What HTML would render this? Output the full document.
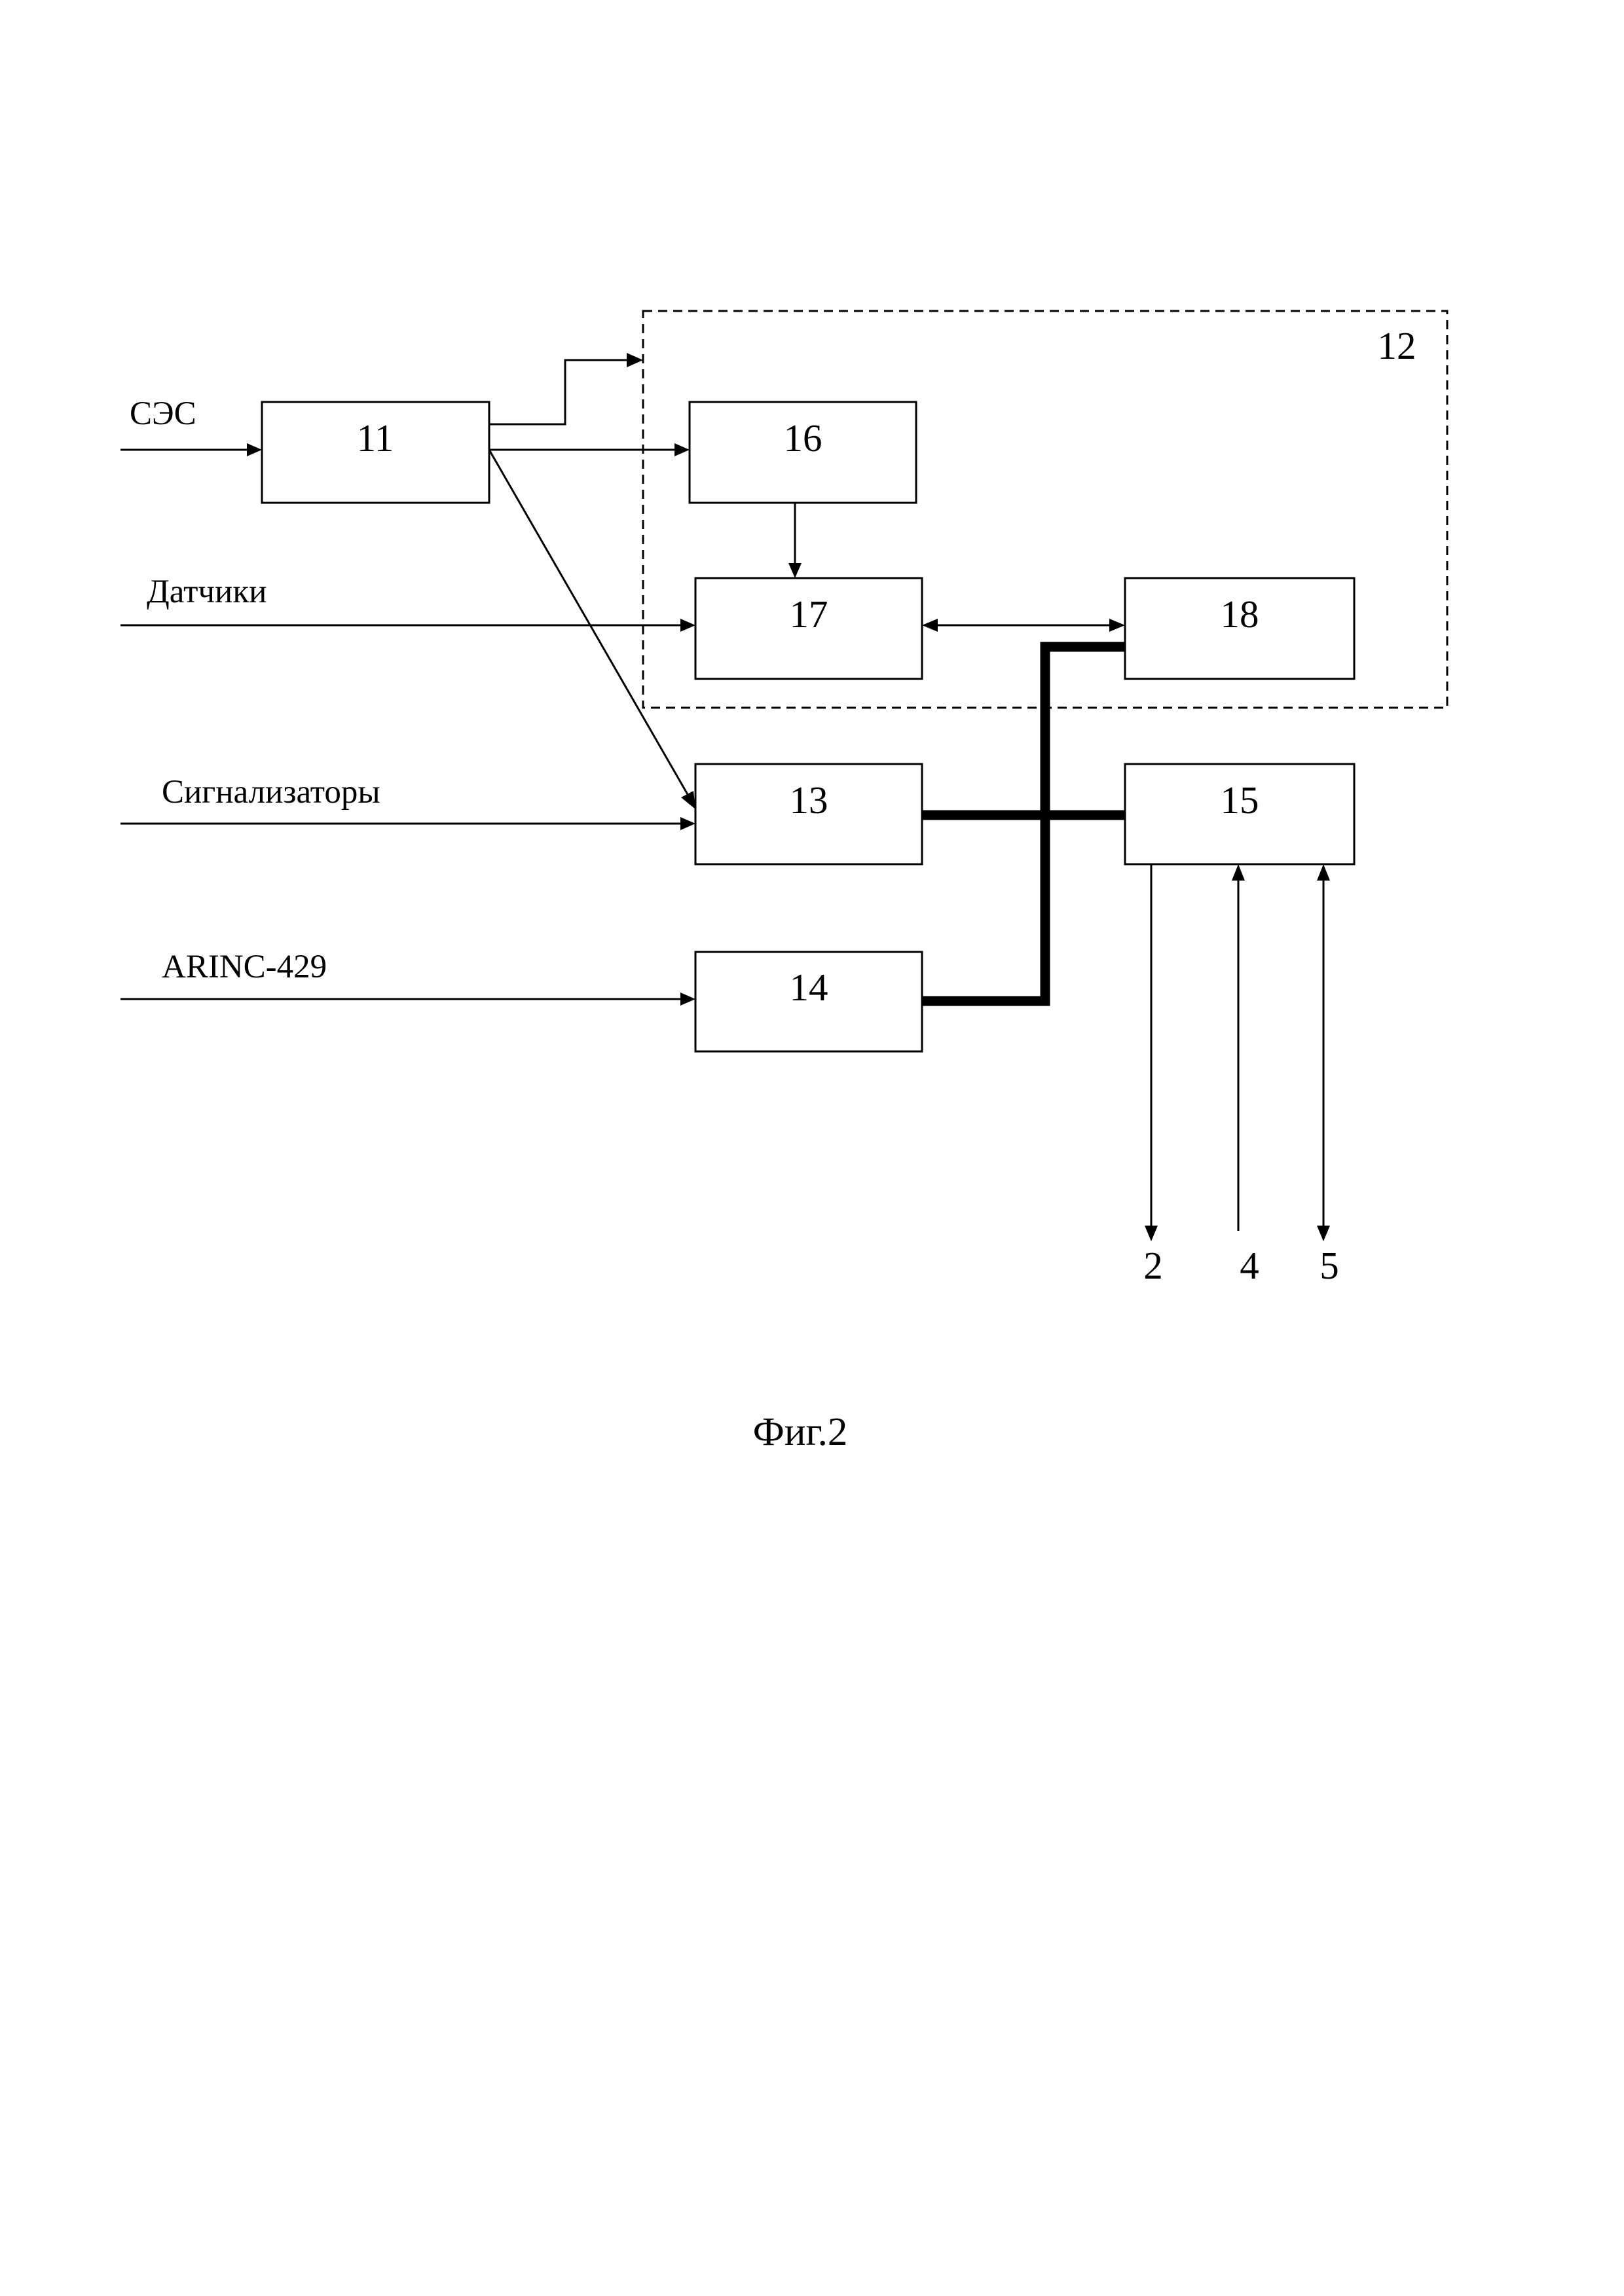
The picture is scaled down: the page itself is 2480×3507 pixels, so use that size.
<!DOCTYPE html>
<html><head><meta charset="utf-8"><style>
html,body{margin:0;padding:0;background:#fff}
svg{display:block}
text{font-family:"Liberation Serif",serif;fill:#000}
</style></head><body>
<svg width="2480" height="3507" viewBox="0 0 2480 3507" xmlns="http://www.w3.org/2000/svg">
<g fill="none" stroke="#000" stroke-width="3">
<rect x="982" y="475" width="1228" height="606" stroke-dasharray="14,9"/>
<rect x="400" y="614" width="347" height="154"/>
<rect x="1053" y="614" width="346" height="154"/>
<rect x="1062" y="883" width="346" height="154"/>
<rect x="1718" y="883" width="350" height="154"/>
<rect x="1062" y="1167" width="346" height="153"/>
<rect x="1718" y="1167" width="350" height="153"/>
<rect x="1062" y="1454" width="346" height="152"/>
<line x1="184" y1="687" x2="380" y2="687"/>
<line x1="184" y1="955" x2="1041" y2="955"/>
<line x1="184" y1="1258" x2="1041" y2="1258"/>
<line x1="184" y1="1526" x2="1041" y2="1526"/>
<polyline points="747,648 863,648 863,550 959,550"/>
<line x1="747" y1="687" x2="1031" y2="687"/>
<line x1="747" y1="687" x2="1051" y2="1215"/>
<line x1="1214" y1="768" x2="1214" y2="862"/>
<line x1="1432" y1="955" x2="1694" y2="955"/>
<line x1="1758" y1="1320" x2="1758" y2="1872"/>
<line x1="1891" y1="1345" x2="1891" y2="1880"/>
<line x1="2021" y1="1345" x2="2021" y2="1872"/>
</g>
<g fill="#000" stroke="none">
<polygon points="400,687 377,677 377,697"/>
<polygon points="982,550 957,539 957,561"/>
<polygon points="1053,687 1030,677 1030,697"/>
<polygon points="1062,955 1039,945 1039,965"/>
<polygon points="1062,1258 1039,1248 1039,1268"/>
<polygon points="1062,1526 1039,1516 1039,1536"/>
<polygon points="1062,1236 1040,1218 1059,1208"/>
<polygon points="1214,883 1204,860 1224,860"/>
<polygon points="1408,955 1432,945 1432,965"/>
<polygon points="1718,955 1694,945 1694,965"/>
<polygon points="1758,1896 1748,1872 1768,1872"/>
<polygon points="1891,1320 1881,1345 1901,1345"/>
<polygon points="2021,1320 2011,1345 2031,1345"/>
<polygon points="2021,1896 2011,1872 2031,1872"/>
</g>
<g fill="none" stroke="#000" stroke-width="15">
<polyline points="1718,988 1596,988 1596,1529 1408,1529"/>
<line x1="1408" y1="1245" x2="1718" y2="1245"/>
</g>
<g font-size="59" text-anchor="middle">
<text x="573" y="689">11</text>
<text x="1226" y="689">16</text>
<text x="1235" y="958">17</text>
<text x="1893" y="958">18</text>
<text x="1235" y="1242">13</text>
<text x="1893" y="1242">15</text>
<text x="1235" y="1528">14</text>
<text x="2133" y="548">12</text>
<text x="1761" y="1953">2</text>
<text x="1908" y="1953">4</text>
<text x="2030" y="1953">5</text>
<text x="1222" y="2207" font-size="61">Фиг.2</text>
</g>
<g font-size="51">
<text x="198" y="648">СЭС</text>
<text x="224" y="920">Датчики</text>
<text x="247" y="1226">Сигнализаторы</text>
<text x="247" y="1493">ARINC-429</text>
</g>
</svg>
</body></html>
